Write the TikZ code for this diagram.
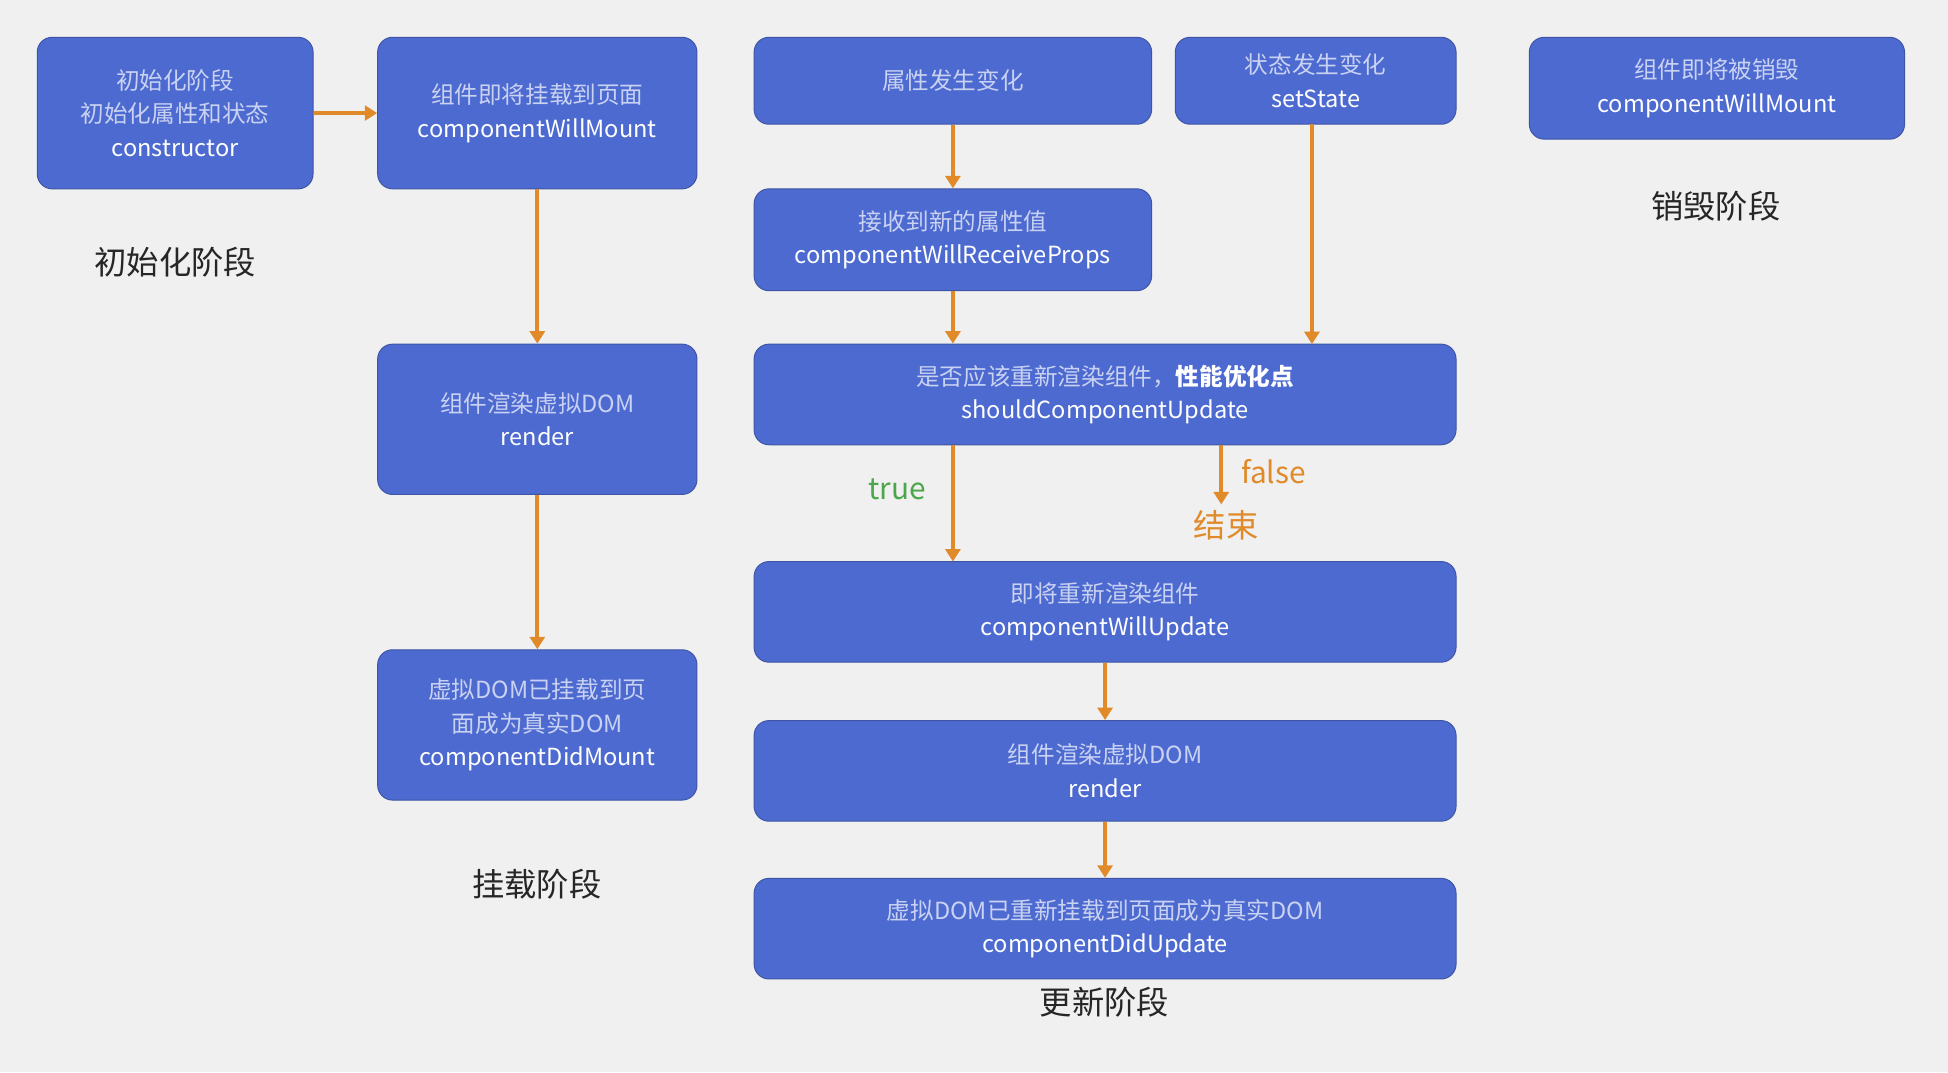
\documentclass[tikz,border=0pt]{standalone}
\usepackage{fontspec}
\setmainfont{Noto Sans CJK SC}
\usetikzlibrary{arrows.meta}
\definecolor{bx}{HTML}{4D6AD0}
\definecolor{cn}{HTML}{C9D2F2}
\definecolor{ar}{HTML}{E08A2A}
\definecolor{bg}{HTML}{F0F0F0}
\tikzset{
 box/.style={draw=bx!80!black, line width=0.8pt, fill=bx, rounded corners=12pt, align=center, text=white, font=\fontsize{19}{27}\selectfont, inner sep=2pt},
 arr/.style={draw=ar, line width=3pt, -{Triangle[length=10pt,width=12pt]}},
 lab/.style={font=\fontsize{26}{30}\selectfont, text=black!85}
}
\newcommand{\cz}[1]{\textcolor{cn}{#1}}
\begin{document}
\begin{tikzpicture}[x=1pt,y=-1pt]
\fill[bg] (0,0) rectangle (1568,863);
\useasboundingbox (0,0) rectangle (1568,863);
\node[box, minimum width=222pt, minimum height=122pt] (A) at (141,91) {\cz{初始化阶段}\\\cz{初始化属性和状态}\\constructor};
\node[box, minimum width=257pt, minimum height=122pt] (B) at (432.5,91) {\cz{组件即将挂载到页面}\\componentWillMount};
\node[box, minimum width=257pt, minimum height=121pt] (C) at (432.5,337.5) {\cz{组件渲染虚拟DOM}\\render};
\node[box, minimum width=257pt, minimum height=121pt] (D) at (432.5,583.5) {\cz{虚拟DOM已挂载到页}\\\cz{面成为真实DOM}\\componentDidMount};
\node[box, minimum width=320pt, minimum height=70pt] (E) at (767,65) {\cz{属性发生变化}};
\node[box, minimum width=226pt, minimum height=70pt] (F) at (1059,65) {\cz{状态发生变化}\\setState};
\node[box, minimum width=302pt, minimum height=82pt] (G) at (1382,71) {\cz{组件即将被销毁}\\componentWillMount};
\node[box, minimum width=320pt, minimum height=82pt] (H) at (767,193) {\cz{接收到新的属性值}\\componentWillReceiveProps};
\node[box, minimum width=565pt, minimum height=81pt] (I) at (889.5,317.5) {\cz{是否应该重新渲染组件，}\textbf{性能优化点}\\shouldComponentUpdate};
\node[box, minimum width=565pt, minimum height=81pt] (J) at (889.5,492.5) {\cz{即将重新渲染组件}\\componentWillUpdate};
\node[box, minimum width=565pt, minimum height=81pt] (K) at (889.5,620.5) {\cz{组件渲染虚拟DOM}\\render};
\node[box, minimum width=565pt, minimum height=81pt] (L) at (889.5,747.5) {\cz{虚拟DOM已重新挂载到页面成为真实DOM}\\componentDidUpdate};
\node[lab] (l1) at (141,211) {初始化阶段};
\node[lab] (l2) at (432,712) {挂载阶段};
\node[lab] (l3) at (889,807) {更新阶段};
\node[lab] (l4) at (1381,166) {销毁阶段};
\node[font=\fontsize{24}{28}\selectfont, text=green!50!black!70] (t) at (722,394) {true};
\node[font=\fontsize{24}{28}\selectfont, text=ar] (f) at (1025,380) {false};
\node[font=\fontsize{26}{30}\selectfont, text=ar] (end) at (987,423) {结束};
\draw[arr] (A.east) -- (B.west);
\draw[arr] (B.south) -- (C.north);
\draw[arr] (C.south) -- (D.north);
\draw[arr] (E.south) -- (H.north);
\draw[arr] (H.south) -- (H.south|-I.north);
\draw[arr] (1056,100) -- (1056,277);
\draw[arr] (767,358) -- (767,452);
\draw[arr] (983,358) -- (983,406);
\draw[arr] (J.south) -- (K.north);
\draw[arr] (K.south) -- (L.north);
\end{tikzpicture}
\end{document}
